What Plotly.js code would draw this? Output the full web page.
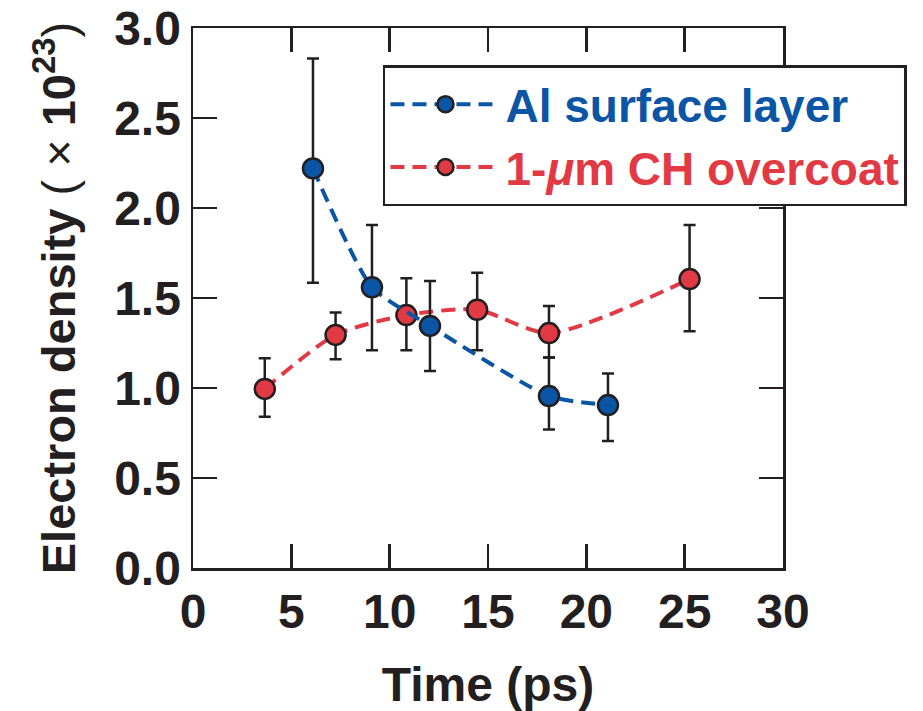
<!DOCTYPE html>
<html>
<head>
<meta charset="utf-8">
<script src="https://cdn.plot.ly/plotly-3.0.1.min.js"></script>
<style>html,body{margin:0;padding:0;background:#fff;}</style>
</head>
<body>
<div id="chart" style="width:923px;height:711px;"></div>
<script>
// Al surface layer
const alTime = [6.1, 9.1, 12.05, 18.1, 21.1];
const alDensity = [2.22, 1.56, 1.345, 0.955, 0.905];
const alErrHigh = [2.83, 1.905, 1.595, 1.17, 1.08];
const alErrLow = [1.585, 1.21, 1.095, 0.77, 0.705];

// 1-um CH overcoat
const chTime = [3.65, 7.25, 10.85, 14.45, 18.1, 25.25];
const chDensity = [0.995, 1.295, 1.405, 1.435, 1.305, 1.605];
const chErrHigh = [1.165, 1.42, 1.61, 1.64, 1.455, 1.905];
const chErrLow = [0.84, 1.16, 1.21, 1.21, 1.17, 1.315];

const xTicks = [0, 5, 10, 15, 20, 25, 30];
const yTicks = [0.0, 0.5, 1.0, 1.5, 2.0, 2.5, 3.0];
const yTickText = ['0.0', '0.5', '1.0', '1.5', '2.0', '2.5', '3.0'];

const blue = '#0a55a5';
const red = '#e23a44';
const ink = '#231f20';
const FONT = 'Liberation Sans, Arial, sans-serif';

function errs(v, hi, lo) {
  return {
    type: 'data', symmetric: false,
    array: hi.map((h, i) => h - v[i]),
    arrayminus: lo.map((l, i) => v[i] - l),
    color: ink, thickness: 2.5, width: 6
  };
}

const traces = [
  {
    x: chTime, y: chDensity, type: 'scatter', mode: 'lines+markers',
    name: '<span style="color:' + red + '">1-<i>μ</i>m CH overcoat</span>',
    legendrank: 2,
    line: {color: red, width: 4, dash: '14px,8px', shape: 'spline', smoothing: 0.7},
    marker: {color: red, size: 20, line: {color: ink, width: 2.5}},
    error_y: errs(chDensity, chErrHigh, chErrLow)
  },
  {
    x: alTime, y: alDensity, type: 'scatter', mode: 'lines+markers',
    name: '<span style="color:' + blue + '">Al surface layer</span>',
    legendrank: 1,
    line: {color: blue, width: 4, dash: '14px,8px', shape: 'spline', smoothing: 0.6},
    marker: {color: blue, size: 20, line: {color: ink, width: 2.5}},
    error_y: errs(alDensity, alErrHigh, alErrLow)
  }
];

const axisCommon = {
  showgrid: false, zeroline: false, showline: true, linecolor: ink, linewidth: 2.5,
  mirror: 'allticks', ticks: 'inside', ticklen: 24, tickwidth: 2.5, tickcolor: ink,
  tickfont: {family: FONT, size: 48, color: ink, weight: 700}
};

const layout = {
  width: 923, height: 711,
  margin: {l: 193, r: 140, t: 28, b: 143},
  paper_bgcolor: '#fff', plot_bgcolor: '#fff',
  font: {family: FONT, color: ink},
  showlegend: true,
  legend: {
    x: 0.322, y: 0.931, xanchor: 'left', yanchor: 'top',
    bgcolor: '#fff', bordercolor: ink, borderwidth: 2.5,
    font: {family: FONT, size: 46, weight: 700},
    itemwidth: 110, tracegroupgap: 0
  },
  xaxis: Object.assign({}, axisCommon, {
    range: [0, 30], tickvals: xTicks, ticktext: xTicks.map(String),
    title: {text: 'Time (ps)', font: {family: FONT, size: 48, color: ink, weight: 700}, standoff: 36}
  }),
  yaxis: Object.assign({}, axisCommon, {
    range: [0, 3], tickvals: yTicks, ticktext: yTickText,
    title: {text: 'Electron density <span style="font-weight:normal">( × </span>10<sup>23</sup><span style="font-weight:normal">)</span>',
      font: {family: FONT, size: 47, color: ink, weight: 700}, standoff: 24}
  })
};

Plotly.newPlot('chart', traces, layout, {displayModeBar: false, staticPlot: true});
</script>
</body>
</html>
